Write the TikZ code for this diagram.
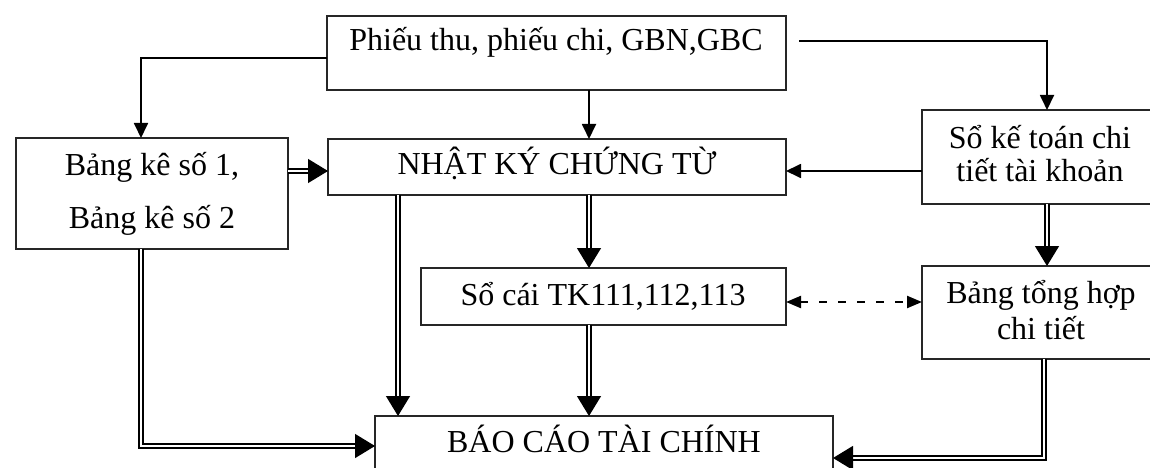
\documentclass[tikz,border=0pt]{standalone}
\usepackage{fontspec}
\setmainfont{Liberation Serif}
\usetikzlibrary{arrows.meta}
\begin{document}
\begin{tikzpicture}[x=1pt,y=-1pt,
  box/.style={draw=black!85, line width=1.6pt, anchor=north west, inner sep=0pt, outer sep=0pt},
  txt/.style={anchor=base, inner sep=0pt, font=\fontsize{32}{38}\selectfont},
  one/.style={line width=1.8pt, -{Triangle[length=15pt,width=14pt]}},
  dbl/.style={double, double distance=2.5pt, line width=1.3pt, -{Triangle[length=20pt,width=24pt]}},
  dsh/.style={line width=2.2pt, dash pattern=on 8pt off 11pt, {Triangle[length=15pt,width=12pt]}-{Triangle[length=15pt,width=12pt]}}]
\clip (0,0) rectangle (1150,468);
\fill[white] (0,0) rectangle (1150,468);

% boxes
\node[box, minimum width=459pt, minimum height=74pt] (src) at (327,16) {};
\node[box, minimum width=272pt, minimum height=111pt] (bk) at (16,138) {};
\node[box, minimum width=458pt, minimum height=56pt] (nk) at (328,139) {};
\node[box, minimum width=240pt, minimum height=94pt] (sk) at (922,110) {};
\node[box, minimum width=365pt, minimum height=57pt] (sc) at (421,268) {};
\node[box, minimum width=240pt, minimum height=93pt] (bth) at (922,266) {};
\node[box, minimum width=458pt, minimum height=90pt] (bc) at (375,416) {};

% labels
\node[txt] (srcT) at (556,51) {Phiếu thu, phiếu chi, GBN,GBC};
\node[txt] (bkA) at (152,175) {Bảng kê số 1,};
\node[txt] (bkB) at (152,228) {Bảng kê số 2};
\node[txt] (nkT) at (557,174) {NHẬT KÝ CHỨNG TỪ};
\node[txt] (skA) at (1040,148) {Sổ kế toán chi};
\node[txt] (skB) at (1040,181) {tiết tài khoản};
\node[txt] (scT) at (603,305) {Sổ cái TK111,112,113};
\node[txt] (bthA) at (1041,303) {Bảng tổng hợp};
\node[txt] (bthB) at (1041,339) {chi tiết};
\node[txt] (bcT) at (604,452) {BÁO CÁO TÀI CHÍNH};

% routing guides
\coordinate (xL) at (141,0);
\coordinate (xN) at (398,0);
\coordinate (xM) at (589,0);
\coordinate (xR) at (1047,0);
\coordinate (xR2) at (1044,0);
\coordinate (yA) at (0,171);
\coordinate (yD) at (0,302);
\coordinate (yB) at (0,446);
\coordinate (yC) at (0,458);

% connectors
\draw[one] ([yshift=-5pt]src.west) -| (bk.north -| xL);
\draw[one] (src.south -| xM) -- (nk.north -| xM);
\draw[one, shorten <=13pt] ([yshift=12pt]src.east) -| (sk.north -| xR);
\draw[dbl] (bk.east |- yA) -- (nk.west |- yA);
\draw[one] (sk.west |- yA) -- (nk.east |- yA);
\draw[dbl] (nk.south -| xN) -- (bc.north -| xN);
\draw[dbl] (nk.south -| xM) -- (sc.north -| xM);
\draw[dbl] (sc.south -| xM) -- (bc.north -| xM);
\draw[dbl] (bk.south -| xL) |- (bc.west |- yB);
\draw[dsh] (sc.east |- yD) -- (bth.west |- yD);
\draw[dbl] (sk.south -| xR) -- (bth.north -| xR);
\draw[dbl] (bth.south -| xR2) |- (bc.east |- yC);
\end{tikzpicture}
\end{document}
